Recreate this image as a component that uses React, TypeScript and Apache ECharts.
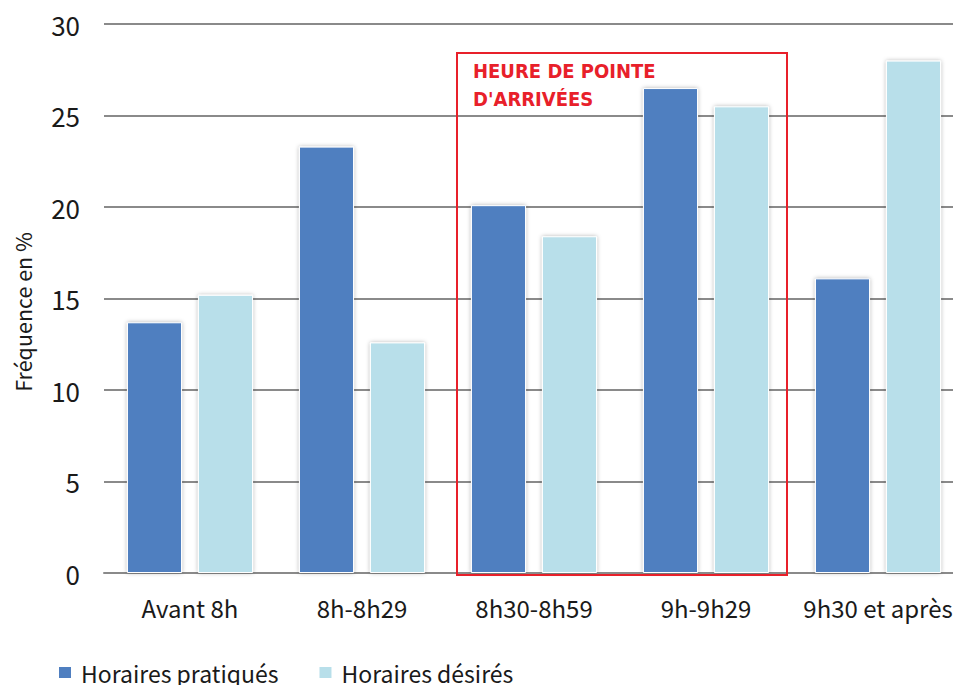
import React, { useEffect, useRef } from "react";
import * as echarts from "echarts";

const categories = ["Avant 8h", "8h-8h29", "8h30-8h59", "9h-9h29", "9h30 et après"];
const pratiques = [13.7, 23.3, 20.1, 26.5, 16.1];
const desires = [15.2, 12.6, 18.4, 25.5, 28.0];
const seriesNames = ["Horaires pratiqués", "Horaires désirés"];
const yAxisTitle = "Fréquence en %";
const annotationLines = ["HEURE DE POINTE", "D'ARRIVÉES"];

const FONT = "'Noto Sans CJK KR', 'Open Sans', sans-serif";

export default function App() {
  const ref = useRef<HTMLDivElement>(null);
  useEffect(() => {
    if (!ref.current) return;
    const chart = echarts.init(ref.current, null, { renderer: "svg" });
    const barStyle = (color: string) => ({
      color,
      borderColor: "#ffffff",
      borderWidth: 1,
      shadowBlur: 4,
      shadowColor: "rgba(0,0,0,0.3)",
    });
    chart.setOption({
      animation: false,
      backgroundColor: "#ffffff",
      grid: {
        left: 104,
        right: 0,
        top: 24,
        bottom: 112,
        containLabel: false,
        outerBoundsMode: "none",
      },
      legend: {
        left: 52,
        top: 656,
        itemWidth: 14,
        itemHeight: 13,
        itemGap: 39,
        icon: "rect",
        textStyle: { fontFamily: FONT, fontSize: 23, color: "#1a1a1a", padding: [0, 0, 0, 4] },
        data: seriesNames,
      },
      xAxis: {
        type: "category",
        data: categories,
        axisLine: { show: true, lineStyle: { color: "#8a8a8a", width: 2 } },
        axisTick: { show: false },
        axisLabel: { fontFamily: FONT, fontSize: 24, color: "#1a1a1a", margin: 22, interval: 0 },
      },
      yAxis: {
        type: "value",
        min: 0,
        max: 30,
        interval: 5,
        axisLine: { show: false },
        axisTick: { show: false },
        axisLabel: { fontFamily: FONT, fontSize: 26, color: "#1a1a1a", margin: 24 },
        splitLine: { lineStyle: { color: "#8a8a8a", width: 2 } },
      },
      series: [
        {
          name: seriesNames[0],
          type: "bar",
          data: pratiques,
          barWidth: "32%",
          barGap: "29%",
          itemStyle: barStyle("#4f7fc0"),
        },
        {
          name: seriesNames[1],
          type: "bar",
          data: desires,
          barWidth: "32%",
          itemStyle: barStyle("#b8dfea"),
        },
      ],
      graphic: [
        {
          type: "text",
          x: 22,
          y: 312,
          rotation: Math.PI / 2,
          style: {
            text: yAxisTitle,
            fill: "#1a1a1a",
            font: "21.5px 'Noto Sans CJK KR', 'Open Sans', sans-serif",
            align: "center",
            verticalAlign: "middle",
          },
        },
        {
          type: "rect",
          z: 100,
          shape: { x: 457, y: 53, width: 330, height: 522 },
          style: { fill: "none", stroke: "#e8202a", lineWidth: 2 },
        },
        {
          type: "text",
          z: 100,
          left: 473,
          top: 57,
          style: {
            text: annotationLines.join("\n"),
            fill: "#e8202a",
            font: "bold 20px 'DejaVu Sans Condensed', 'Liberation Sans Narrow', sans-serif",
            lineHeight: 28,
          },
        },
      ],
    });
    return () => chart.dispose();
  }, []);
  return (
    <div style={{ position: "absolute", left: 0, top: 0, width: 953, height: 685, overflow: "hidden" }}>
      <div ref={ref} style={{ position: "absolute", left: 0, top: 0, width: 964, height: 685 }} />
    </div>
  );
}
